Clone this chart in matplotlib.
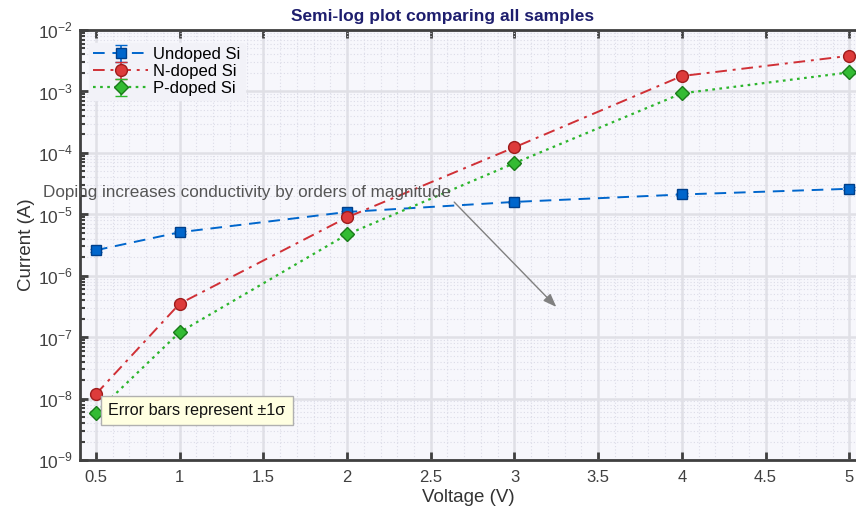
import matplotlib
matplotlib.use("Agg")
import matplotlib.pyplot as plt
from matplotlib.ticker import LogLocator, MultipleLocator, NullFormatter

plt.rcParams['font.family'] = ['Liberation Sans', 'DejaVu Sans']
plt.rcParams['mathtext.fontset'] = 'custom'
plt.rcParams['mathtext.rm'] = 'Liberation Sans'

# data
voltage = [0.5, 1, 2, 3, 4, 5]
undoped = [2.6e-6, 5.1e-6, 1.09e-5, 1.59e-5, 2.1e-5, 2.6e-5]
n_doped = [1.18e-8, 3.5e-7, 8.9e-6, 1.23e-4, 1.78e-3, 3.8e-3]
p_doped = [5.9e-9, 1.2e-7, 4.7e-6, 6.8e-5, 9.3e-4, 2.04e-3]
undoped_err = [1.3e-7, 2.6e-7, 5.5e-7, 8.0e-7, 1.05e-6, 1.3e-6]
n_doped_err = [6e-10, 1.8e-8, 4.5e-7, 6.2e-6, 9e-5, 1.9e-4]
p_doped_err = [3e-10, 6e-9, 2.4e-7, 3.4e-6, 4.7e-5, 1.0e-4]

fig = plt.figure(figsize=(8.56, 5.07), dpi=100)
ax = fig.add_axes([80 / 856, 47 / 507, 776 / 856, 430 / 507])
ax.set_facecolor('#f7f7fc')

ax.errorbar(voltage, undoped, yerr=undoped_err, color='#0066cc', ls=(0, (6, 4)), lw=1.4,
            marker='s', ms=7.5, mfc='#0066cc', mec='#003f8a', capsize=4,
            elinewidth=1.2, label='Undoped Si', zorder=3)
ax.errorbar(voltage, n_doped, yerr=n_doped_err, color='#d03036', ls=(0, (6, 3, 1.5, 3)), lw=1.4,
            marker='o', ms=8.5, mfc='#dd3b3b', mec='#9e1c1c', capsize=4,
            elinewidth=1.2, label='N-doped Si', zorder=3)
ax.errorbar(voltage, p_doped, yerr=p_doped_err, color='#2cb52c', ls=(0, (1.2, 2)), lw=1.6,
            marker='D', ms=7.5, mfc='#33bb33', mec='#1a7a1a', capsize=4,
            elinewidth=1.2, label='P-doped Si', zorder=3)

ax.set_yscale('log')
ax.set_xlim(0.405, 5.04)
ax.set_ylim(1e-9, 1e-2)
ax.xaxis.set_minor_locator(MultipleLocator(0.1))
ax.set_xticks([0.5, 1, 1.5, 2, 2.5, 3, 3.5, 4, 4.5, 5])
ax.set_xticklabels(['0.5', '1', '1.5', '2', '2.5', '3', '3.5', '4', '4.5', '5'])
ax.set_yticks([1e-9, 1e-8, 1e-7, 1e-6, 1e-5, 1e-4, 1e-3, 1e-2])
ax.set_yticklabels([r'$10^{-9}$', r'$10^{-8}$', r'$10^{-7}$', r'$10^{-6}$',
                    r'$10^{-5}$', r'$10^{-4}$', r'$10^{-3}$', r'$10^{-2}$'])
ax.yaxis.set_minor_locator(LogLocator(base=10, subs=range(2, 10), numticks=100))
ax.yaxis.set_minor_formatter(NullFormatter())

ax.grid(True, which='major', color='#e0e0e6', lw=1.8, ls='-', zorder=0)
ax.grid(True, which='minor', color='#dcdce8', lw=0.8, ls=(0, (1, 2)), zorder=0)
ax.set_axisbelow(True)

for side in ['left', 'bottom', 'top']:
    ax.spines[side].set_color('#404040')
    ax.spines[side].set_linewidth(2)
ax.spines['right'].set_visible(False)
ax.tick_params(axis='both', which='major', direction='in', length=6, width=2,
               color='#404040', labelcolor='#404040', top=True)
ax.tick_params(axis='x', which='major', labelsize=12, pad=7)
ax.tick_params(axis='y', which='major', labelsize=12.5, pad=5)
ax.tick_params(axis='y', which='minor', direction='in', length=3.5, width=1.5,
               color='#404040')
ax.tick_params(axis='x', which='minor', length=0, top=False)

ax.set_xlabel('Voltage (V)', fontsize=13.5, color='#333333', labelpad=3)
ax.set_ylabel('Current (A)', fontsize=13.5, color='#333333', labelpad=2)
fig.text(443 / 856, 1 - 17 / 507, 'Semi-log plot comparing all samples',
         ha='center', va='center', fontsize=12.5, fontweight='bold', color='#1e1e6e')

leg = ax.legend(loc='upper left', bbox_to_anchor=(0.003, 0.985), fontsize=12,
                frameon=True, facecolor='#f2f2f8', edgecolor='#f2f2f8',
                framealpha=1, handlelength=3.3, borderpad=0.25, labelspacing=0.12,
                handletextpad=0.3, borderaxespad=0.4)

ax.text(1.4, 2.3e-5, 'Doping increases conductivity by orders of magnitude',
        ha='center', va='center', fontsize=12.3, color='#555555', zorder=4)
ax.annotate('', xy=(3.25, 3.1e-7), xytext=(2.64, 1.58e-5),
            arrowprops=dict(arrowstyle='-|>,head_length=0.8,head_width=0.3',
                            color='#808080', lw=1, shrinkA=0, shrinkB=0))

ax.text(0.575, 6.4e-9, 'Error bars represent \u00b11\u03c3', fontsize=11.6,
        color='#111111', va='center', ha='left', zorder=5,
        bbox=dict(boxstyle='square,pad=0.45', facecolor='#ffffe1',
                  edgecolor='#b0b0b0', lw=1))

fig.savefig('out.png', dpi=100)
